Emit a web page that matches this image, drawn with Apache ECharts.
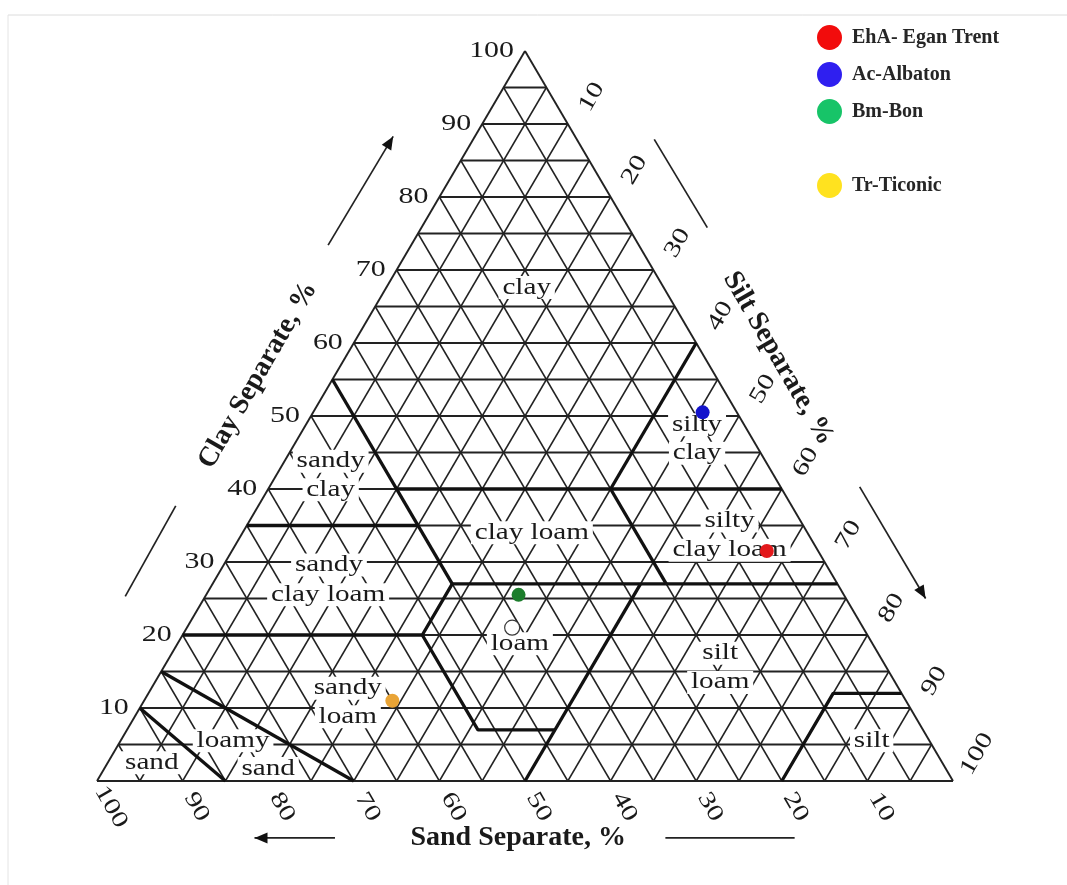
<!DOCTYPE html>
<html>
<head>
<meta charset="utf-8">
<script src="https://cdn.jsdelivr.net/npm/echarts@6/dist/echarts.min.js"></script>
<style>
  html, body { margin: 0; padding: 0; background: #fff; }
  #chart { width: 1067px; height: 885px; }
</style>
</head>
<body>
<div id="chart"></div>
<script>
// Soil samples plotted on the USDA texture triangle (percent sand / silt / clay)
const sampleNames = ['EhA- Egan Trent', 'Ac-Albaton', 'Bm-Bon', 'Tr-Ticonic'];
const sampleSand  = [6, 4, 38, 60];
const sampleSilt  = [62.5, 45.5, 36.5, 29];
const sampleClay  = [31.5, 50.5, 25.5, 11];
const sampleDotColors    = ['#e3191c', '#1414cc', '#1c7d2c', '#e9a436'];
const sampleLegendColors = ['#f20c0c', '#2f1ff0', '#17c468', '#ffe21f'];

// One more sample, drawn as an open marker with no legend entry
const extraSand = [41];
const extraSilt = [38];
const extraClay = [21];

// Tick labels on each side and the 5 % grid spacing
const tickValues = [10, 20, 30, 40, 50, 60, 70, 80, 90, 100];
const gridSteps = [5, 10, 15, 20, 25, 30, 35, 40, 45, 50, 55, 60, 65, 70, 75, 80, 85, 90, 95];

// Texture class boundaries, each a polyline of [sand %, clay %] vertices
const classBoundaries = [
  [[45, 55], [45, 27]],            // clay / sandy clay, clay loam / sandy clay loam
  [[45, 40], [0, 40]],             // clay / clay loam, silty clay / silty clay loam
  [[20, 40], [0, 60]],             // clay / silty clay
  [[20, 40], [20, 27]],            // clay loam / silty clay loam
  [[65, 35], [45, 35]],            // sandy clay / sandy clay loam
  [[45, 27], [0, 27]],             // clay loam / loam, silty clay loam / silt loam
  [[80, 20], [52, 20], [45, 27]],  // sandy clay loam / sandy loam, loam
  [[52, 20], [52, 7], [43, 7]],    // loam / sandy loam
  [[50, 0], [23, 27]],             // loam / silt loam
  [[85, 15], [70, 0]],             // sandy loam / loamy sand
  [[90, 10], [85, 0]],             // loamy sand / sand
  [[20, 0], [8, 12], [0, 12]]      // silt loam / silt
];

// Class names, line by line, and where each line sits (chart x %, chart y %)
const classNames = ['clay', 'sandy', 'clay', 'sandy', 'clay loam', 'clay loam', 'silty', 'clay',
  'silty', 'clay loam', 'loam', 'silt', 'loam', 'sandy', 'loam', 'loamy', 'sand', 'sand', 'silt'];
const classLabelAt = [
  [50.2, 67.6], [27.3, 43.8], [27.3, 39.9], [27.1, 29.6], [27.0, 25.5], [50.8, 34.0],
  [70.1, 48.8], [70.1, 44.9], [73.9, 35.6], [73.9, 31.6], [49.4, 18.8], [72.8, 17.5],
  [72.8, 13.5], [29.3, 12.7], [29.3, 8.8], [15.9, 5.5], [20.0, 1.7], [6.4, 2.5], [90.5, 5.5]
];

const FONT = '"Liberation Serif", "Times New Roman", serif';
const INK = '#1a1a1a';

// sand + silt + clay = 100; bottom-left = all sand, bottom-right = all silt, apex = all clay
function ternary(sand, clay) {
  return [100 - sand - clay / 2, clay];
}

// Grid segments: [x1, y1, x2, y2, kind] where kind 0 = horizontal, 1 = slanted, 2 = outline
const gridSegments = [];
gridSteps.forEach(function (v) {
  const a = ternary(100 - v, v), b = ternary(0, v);            // constant clay
  gridSegments.push([a[0], a[1], b[0], b[1], 0]);
  const c = ternary(v, 0), d = ternary(v, 100 - v);            // constant sand
  gridSegments.push([c[0], c[1], d[0], d[1], 1]);
  const e = ternary(100 - v, 0), f = ternary(0, 100 - v);      // constant silt
  gridSegments.push([e[0], e[1], f[0], f[1], 1]);
});
[[ternary(100, 0), ternary(0, 0)], [ternary(0, 0), ternary(0, 100)], [ternary(0, 100), ternary(100, 0)]]
  .forEach(function (s) { gridSegments.push([s[0][0], s[0][1], s[1][0], s[1][1], 2]); });

// Tick label items: [x, y, value, side] where side 0 = clay, 1 = sand, 2 = silt
const tickItems = [];
tickValues.forEach(function (v) {
  const c = ternary(100 - v, v); tickItems.push([c[0], c[1], v, 0]);
  const s = ternary(v, 0);       tickItems.push([s[0], s[1], v, 1]);
  const t = ternary(0, 100 - v); tickItems.push([t[0], t[1], v, 2]);
});

const chart = echarts.init(document.getElementById('chart'), null, { renderer: 'canvas' });

function arrowHead(from, to, len, half) {
  const dx = to[0] - from[0], dy = to[1] - from[1];
  const L = Math.sqrt(dx * dx + dy * dy);
  const ux = dx / L, uy = dy / L;
  const bx = to[0] - ux * len, by = to[1] - uy * len;
  return [[to[0], to[1]], [bx - uy * half, by + ux * half], [bx + uy * half, by - ux * half]];
}

const series = [];

// Triangular grid
series.push({
  type: 'custom', name: 'grid', silent: true, z: 1,
  coordinateSystem: 'cartesian2d',
  encode: { x: [0, 2], y: [1, 3] },
  data: gridSegments,
  renderItem: function (params, api) {
    const a = api.coord([api.value(0), api.value(1)]);
    const b = api.coord([api.value(2), api.value(3)]);
    const kind = api.value(4);
    return {
      type: 'line',
      shape: { x1: a[0], y1: a[1], x2: b[0], y2: b[1] },
      style: { stroke: '#222', lineWidth: kind === 0 ? 1.8 : (kind === 2 ? 1.9 : 1.5) }
    };
  }
});

// Class names (white boxes break the thin grid)
series.push({
  type: 'custom', name: 'classes', silent: true, z: 2,
  coordinateSystem: 'cartesian2d',
  encode: { x: 0, y: 1 },
  data: classLabelAt.map(function (p, i) { return [p[0], p[1], i]; }),
  renderItem: function (params, api) {
    const p = api.coord([api.value(0), api.value(1)]);
    return {
      type: 'text', x: p[0], y: p[1], scaleX: 1.27,
      style: {
        text: classNames[api.value(2)], font: '23px ' + FONT, fill: INK,
        align: 'center', verticalAlign: 'middle',
        backgroundColor: '#fff', padding: [0, 3, 0, 3]
      }
    };
  }
});

// Class boundaries
classBoundaries.forEach(function (line, i) {
  series.push({
    type: 'line', name: 'boundary' + i, silent: true, z: 3,
    symbol: 'none', clip: false, animation: false,
    lineStyle: { color: '#111', width: 3.3 },
    data: line.map(function (p) { return ternary(p[0], p[1]); })
  });
});

// Tick labels on the three sides
series.push({
  type: 'custom', name: 'ticks', silent: true, z: 4,
  coordinateSystem: 'cartesian2d',
  encode: { x: 0, y: 1 },
  data: tickItems,
  renderItem: function (params, api) {
    const p = api.coord([api.value(0), api.value(1)]);
    const v = String(api.value(2));
    const side = api.value(3);
    let x = p[0], y = p[1], rot = 0, align = 'center';
    if (side === 0) { x -= 11; align = 'right'; }
    else if (side === 1) { x += 14; y += 26; rot = -Math.PI / 3; }
    else { x += 24; y -= 27; rot = Math.PI / 3; }
    return {
      type: 'text', x: x, y: y, rotation: rot, scaleX: 1.3,
      style: { text: v, font: '23px ' + FONT, fill: INK, align: align, verticalAlign: 'middle' }
    };
  }
});

// Axis titles and direction arrows
series.push({
  type: 'custom', name: 'titles', silent: true, z: 4,
  coordinateSystem: 'cartesian2d',
  encode: { x: 0, y: 1 },
  data: [[50, 50]],
  renderItem: function (params, api) {
    const c = function (x, y) { return api.coord([x, y]); };
    const kids = [];
    const titleFont = 'bold 28px ' + FONT;
    const clayT = c(18.8, 55.6), siltT = c(79.6, 57.9), sandT = c(49.2, -7.8);
    kids.push({ type: 'text', x: clayT[0], y: clayT[1], rotation: Math.PI / 3,
      style: { text: 'Clay Separate, %', font: titleFont, fill: INK, align: 'center', verticalAlign: 'middle' } });
    kids.push({ type: 'text', x: siltT[0], y: siltT[1], rotation: -Math.PI / 3,
      style: { text: 'Silt Separate, %', font: titleFont, fill: INK, align: 'center', verticalAlign: 'middle' } });
    kids.push({ type: 'text', x: sandT[0], y: sandT[1],
      style: { text: 'Sand Separate, %', font: titleFont, fill: INK, align: 'center', verticalAlign: 'middle' } });

    const arrows = [
      [[27.0, 73.4], [34.6, 88.3], true],
      [[3.3, 25.3], [9.2, 37.7], false],
      [[65.1, 87.9], [71.3, 75.8], false],
      [[89.1, 40.3], [96.8, 25.0], true],
      [[27.8, -7.8], [18.4, -7.8], true],
      [[66.4, -7.8], [81.5, -7.8], false]
    ];
    arrows.forEach(function (a) {
      const p0 = c(a[0][0], a[0][1]), p1 = c(a[1][0], a[1][1]);
      kids.push({ type: 'line', shape: { x1: p0[0], y1: p0[1], x2: p1[0], y2: p1[1] },
        style: { stroke: '#222', lineWidth: 1.7 } });
      if (a[2]) {
        kids.push({ type: 'polygon', shape: { points: arrowHead(p0, p1, 13, 5.5) }, style: { fill: '#111' } });
      }
    });
    return { type: 'group', children: kids };
  }
});

// Samples
sampleNames.forEach(function (name, i) {
  series.push({
    type: 'scatter', name: name, z: 6,
    symbol: 'circle', symbolSize: 14,
    itemStyle: { color: sampleDotColors[i], opacity: 1 },
    data: [ternary(sampleSand[i], sampleClay[i])]
  });
});
series.push({
  type: 'scatter', name: 'open sample', z: 6,
  symbol: 'circle', symbolSize: 15,
  itemStyle: { color: '#ffffff', borderColor: '#3a3a3a', borderWidth: 1.2, opacity: 1 },
  data: extraSand.map(function (s, i) { return ternary(s, extraClay[i]); })
});

const legendText = { fontSize: 20, fontWeight: 'bold', fontFamily: FONT, color: '#262626', padding: [0, 0, 0, 5] };
function legendItem(i) { return { name: sampleNames[i], itemStyle: { color: sampleLegendColors[i] } }; }

chart.setOption({
  animation: false,
  backgroundColor: '#fff',
  grid: { left: 97, right: 114, top: 51, bottom: 104 },
  xAxis: { type: 'value', min: 0, max: 100, show: false },
  yAxis: { type: 'value', min: 0, max: 100, show: false },
  legend: [
    { orient: 'vertical', left: 812, top: 20, icon: 'circle', itemWidth: 25, itemHeight: 25, itemGap: 12,
      selectedMode: false, textStyle: legendText, data: [legendItem(0), legendItem(1), legendItem(2)] },
    { orient: 'vertical', left: 812, top: 168, icon: 'circle', itemWidth: 25, itemHeight: 25,
      selectedMode: false, textStyle: legendText, data: [legendItem(3)] }
  ],
  graphic: [
    { type: 'line', shape: { x1: 8, y1: 15, x2: 1067, y2: 15 }, style: { stroke: '#dcdcdc', lineWidth: 1 }, silent: true },
    { type: 'line', shape: { x1: 8, y1: 15, x2: 8, y2: 885 }, style: { stroke: '#e4e4e4', lineWidth: 1 }, silent: true }
  ],
  series: series
});
</script>
</body>
</html>
